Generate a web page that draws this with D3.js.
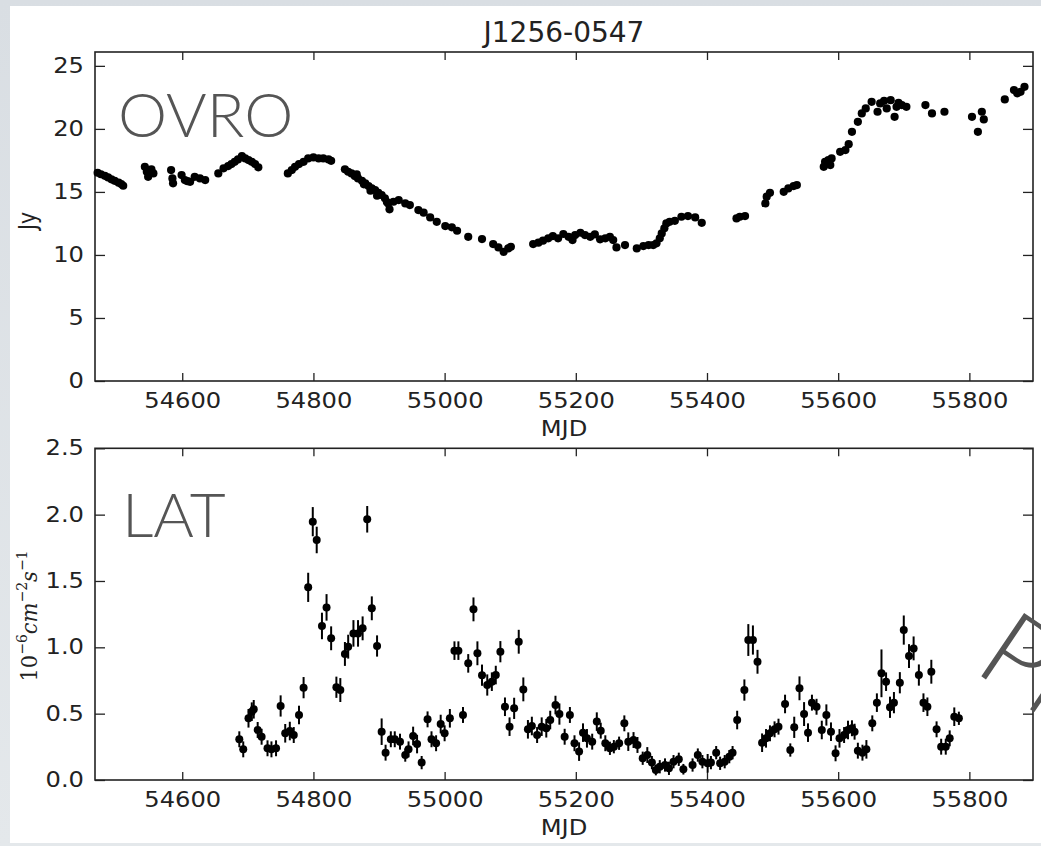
<!DOCTYPE html>
<html>
<head>
<meta charset="utf-8">
<script src="https://cdn.jsdelivr.net/npm/d3@7"></script>
<style>
  html, body { margin: 0; padding: 0; background: #fff; }
  svg { display: block; }
</style>
</head>
<body>
<svg id="chart" width="1041" height="846"></svg>
<script>
// ---- OVRO 15 GHz light curve (MJD, flux density in Jy) ----
const ovroMJD = [
  54471, 54476, 54482, 54487, 54492, 54497, 54503, 54507, 54510,
  54543, 54546, 54548, 54553, 54556,
  54583, 54585, 54586,
  54599, 54604, 54608, 54612, 54619, 54627, 54635,
  54655, 54663, 54670, 54675, 54680, 54685, 54691, 54696, 54701, 54706, 54711, 54716,
  54761, 54767, 54772, 54778, 54785, 54792, 54800, 54808, 54815, 54823, 54827,
  54848, 54853, 54858, 54863, 54866, 54868, 54874, 54877, 54879, 54884, 54887, 54889,
  54894, 54897, 54899, 54904, 54909, 54912, 54914, 54916, 54922, 54930, 54940, 54947,
  54960, 54968, 54978, 54988, 55001, 55011, 55019, 55036, 55057, 55074, 55082, 55090, 55097, 55101,
  55135, 55143, 55150, 55158, 55165, 55173, 55181, 55189, 55195, 55199, 55207, 55214, 55222,
  55229, 55237, 55245, 55252, 55257, 55262, 55275,
  55293, 55303, 55311, 55318, 55323, 55328, 55331, 55335, 55338, 55343, 55351, 55361, 55371, 55382, 55392,
  55445, 55450, 55458,
  55489, 55491, 55496, 55517, 55524, 55532, 55537,
  55578, 55580, 55585, 55588, 55590, 55603, 55611, 55616,
  55621, 55630, 55636, 55642, 55651, 55660, 55664, 55670, 55674, 55680, 55686, 55689, 55692, 55697, 55704,
  55733, 55743, 55762,
  55804, 55813, 55819, 55822,
  55854, 55868, 55873, 55878, 55884
];
const ovroJy = [
  16.52, 16.40, 16.28, 16.15, 16.00, 15.88, 15.73, 15.62, 15.49,
  16.99, 16.60, 16.20, 16.79, 16.47,
  16.73, 16.07, 15.68,
  16.34, 15.94, 15.85, 15.80, 16.20, 16.07, 15.94,
  16.47, 16.87, 17.05, 17.21, 17.39, 17.58, 17.84, 17.66, 17.53, 17.39, 17.21, 16.95,
  16.47, 16.73, 16.99, 17.21, 17.39, 17.66, 17.74, 17.66, 17.66, 17.58, 17.47,
  16.79, 16.60, 16.47, 16.26, 16.40, 16.07, 15.88, 15.60, 15.68, 15.46, 15.10, 15.28,
  15.15, 14.70, 14.93, 14.75, 14.49, 14.20, 14.09, 13.62, 14.22, 14.35, 14.09, 13.96,
  13.56, 13.35, 12.98, 12.63, 12.29, 12.19, 11.92, 11.44, 11.26, 10.86, 10.60, 10.25, 10.52, 10.65,
  10.86, 10.97, 11.13, 11.32, 11.50, 11.32, 11.66, 11.44, 11.18, 11.58, 11.76, 11.58, 11.44,
  11.63, 11.24, 11.32, 11.44, 11.18, 10.60, 10.78,
  10.52, 10.70, 10.78, 10.78, 10.92, 11.32, 11.71, 12.11, 12.50, 12.63, 12.71, 13.03, 13.08, 12.98, 12.55,
  12.90, 13.03, 13.08,
  14.09, 14.62, 14.93, 15.01, 15.28, 15.46, 15.54,
  16.99, 17.39, 17.53, 17.13, 17.66, 18.18, 18.32, 18.79,
  19.77, 20.56, 21.23, 21.62, 22.15, 21.36, 22.02, 22.23, 21.62, 22.28, 20.96, 21.75, 22.07, 21.89, 21.75,
  21.89, 21.23, 21.36,
  20.96, 19.77, 21.36, 20.75,
  22.34, 23.08, 22.82, 22.94, 23.34
];

// ---- Fermi-LAT weekly photon flux (MJD, 1e-6 ph cm^-2 s^-1, 1-sigma error) ----
const latMJD = [
  54687, 54693, 54701, 54706, 54709, 54715, 54721, 54730, 54736, 54743,
  54750, 54757, 54764, 54770, 54778, 54785, 54792, 54799, 54805, 54813,
  54820, 54827, 54835, 54841, 54848, 54853, 54861, 54868, 54875, 54882,
  54889, 54897, 54904, 54910, 54918, 54924, 54932, 54940, 54945, 54952,
  54958, 54965, 54974, 54980, 54987, 54994, 55000, 55008, 55015, 55021,
  55028, 55036, 55044, 55050, 55057, 55065, 55072, 55078, 55085, 55092,
  55099, 55106, 55113, 55120, 55127, 55133, 55141, 55148, 55155, 55161,
  55169, 55175, 55183, 55191, 55198, 55205, 55211, 55217, 55225, 55232,
  55238, 55245, 55252, 55258, 55266, 55274, 55280, 55288, 55294, 55302,
  55309, 55316, 55322, 55328, 55336, 55342, 55349, 55357, 55364, 55378,
  55386, 55393, 55401, 55406, 55414, 55420, 55427, 55434, 55439, 55446,
  55457, 55463, 55470, 55477, 55484, 55490, 55496, 55503, 55509, 55519,
  55527, 55533, 55541, 55548, 55554, 55560, 55567, 55575, 55582, 55589,
  55596, 55602, 55609, 55615, 55621, 55625, 55630, 55637, 55643, 55652,
  55659, 55666, 55673, 55679, 55685, 55694, 55700, 55708, 55715, 55723,
  55730, 55736, 55742, 55750, 55757, 55764, 55770, 55777, 55784
];
const latFlux = [
  0.307, 0.231, 0.465, 0.515, 0.533, 0.377, 0.326, 0.239, 0.231, 0.239,
  0.558, 0.352, 0.369, 0.339, 0.490, 0.696, 1.452, 1.947, 1.809, 1.161,
  1.301, 1.068, 0.699, 0.678, 0.950, 1.005, 1.105, 1.105, 1.143, 1.965,
  1.294, 1.010, 0.364, 0.206, 0.307, 0.307, 0.289, 0.188, 0.231, 0.332,
  0.271, 0.131, 0.457, 0.307, 0.277, 0.422, 0.352, 0.465, 0.975, 0.975,
  0.490, 0.879, 1.286, 0.955, 0.790, 0.716, 0.741, 0.791, 0.967, 0.552,
  0.402, 0.540, 1.042, 0.683, 0.382, 0.407, 0.339, 0.402, 0.390, 0.452,
  0.565, 0.497, 0.326, 0.490, 0.277, 0.214, 0.357, 0.314, 0.289, 0.440,
  0.372, 0.277, 0.239, 0.251, 0.277, 0.427, 0.289, 0.301, 0.264, 0.164,
  0.188, 0.131, 0.075, 0.100, 0.113, 0.088, 0.138, 0.156, 0.081, 0.113,
  0.188, 0.138, 0.126, 0.131, 0.206, 0.126, 0.138, 0.176, 0.206, 0.452,
  0.678, 1.055, 1.055, 0.891, 0.281, 0.314, 0.352, 0.382, 0.402, 0.573,
  0.226, 0.397, 0.691, 0.497, 0.357, 0.583, 0.552, 0.377, 0.490, 0.364,
  0.201, 0.314, 0.339, 0.377, 0.390, 0.364, 0.221, 0.206, 0.231, 0.427,
  0.583, 0.804, 0.741, 0.548, 0.583, 0.733, 1.130, 0.934, 0.992, 0.791,
  0.583, 0.552, 0.816, 0.382, 0.251, 0.251, 0.314, 0.477, 0.465
];
const latErr = [
  0.06, 0.06, 0.07, 0.07, 0.07, 0.06, 0.06, 0.06, 0.06, 0.06,
  0.08, 0.07, 0.07, 0.06, 0.07, 0.08, 0.11, 0.11, 0.10, 0.10,
  0.10, 0.09, 0.08, 0.09, 0.09, 0.09, 0.10, 0.10, 0.09, 0.10,
  0.09, 0.08, 0.10, 0.06, 0.06, 0.06, 0.06, 0.05, 0.06, 0.07,
  0.07, 0.05, 0.06, 0.06, 0.06, 0.07, 0.06, 0.07, 0.07, 0.07,
  0.06, 0.07, 0.09, 0.09, 0.08, 0.08, 0.07, 0.07, 0.08, 0.07,
  0.07, 0.08, 0.09, 0.09, 0.07, 0.07, 0.06, 0.07, 0.07, 0.07,
  0.07, 0.08, 0.06, 0.06, 0.06, 0.07, 0.07, 0.07, 0.06, 0.07,
  0.06, 0.06, 0.05, 0.05, 0.05, 0.06, 0.07, 0.06, 0.06, 0.05,
  0.06, 0.05, 0.04, 0.05, 0.05, 0.05, 0.05, 0.05, 0.04, 0.05,
  0.05, 0.05, 0.07, 0.05, 0.05, 0.05, 0.05, 0.05, 0.05, 0.07,
  0.08, 0.12, 0.11, 0.09, 0.07, 0.07, 0.06, 0.06, 0.06, 0.07,
  0.05, 0.08, 0.09, 0.09, 0.07, 0.06, 0.06, 0.07, 0.08, 0.07,
  0.06, 0.07, 0.06, 0.07, 0.06, 0.06, 0.06, 0.06, 0.07, 0.06,
  0.07, 0.18, 0.07, 0.08, 0.08, 0.08, 0.11, 0.09, 0.09, 0.08,
  0.07, 0.07, 0.09, 0.06, 0.06, 0.06, 0.06, 0.07, 0.05
];

// ---- axis ticks ----
const mjdTicks = [54600, 54800, 55000, 55200, 55400, 55600, 55800];
const jyTicks = [0, 5, 10, 15, 20, 25];
const fluxTicks = [0.0, 0.5, 1.0, 1.5, 2.0, 2.5];

const svg = d3.select("#chart");
const W = 1041, H = 846;

// slide-style backdrop with a white content panel
const defs = svg.append("defs");
const grad = defs.append("linearGradient").attr("id", "bg")
  .attr("x1", "0").attr("y1", "0").attr("x2", "0").attr("y2", "1");
grad.append("stop").attr("offset", "0").attr("stop-color", "#d9dee3");
grad.append("stop").attr("offset", "1").attr("stop-color", "#e4e8eb");
svg.append("rect").attr("width", W).attr("height", H).attr("fill", "url(#bg)");
svg.append("rect").attr("x", 10).attr("y", 6).attr("width", W - 10).attr("height", 837).attr("fill", "#ffffff");
// keeps the slanted stamp inside the panel
defs.append("clipPath").attr("id", "panelClip")
  .append("rect").attr("x", 10).attr("y", 6).attr("width", W - 10).attr("height", 837);

const left = 95, right = 1033;
const x = d3.scaleLinear().domain([54467, 55897]).range([left, right]);
const yTop = d3.scaleLinear().domain([0, 26.1]).range([381, 52]);
const yBot = d3.scaleLinear().domain([0, 2.5]).range([780, 448.3]);

const tickFont = "'DejaVu Sans', sans-serif";
const SX = 1.18; // horizontal text stretch of the figure

function frame(y, yTicks, fmt) {
  const g = svg.append("g");
  const [y0, y1] = y.range();
  // bottom axis with labels, inward ticks
  const gb = g.append("g").attr("transform", `translate(0,${y0})`)
    .call(d3.axisBottom(x).tickValues(mjdTicks).tickSizeInner(-8).tickSizeOuter(0).tickPadding(12).tickFormat(d3.format("d")));
  const gt = g.append("g").attr("transform", `translate(0,${y1})`)
    .call(d3.axisTop(x).tickValues(mjdTicks).tickSizeInner(-8).tickSizeOuter(0).tickFormat(""));
  const gl = g.append("g").attr("transform", `translate(${left},0)`)
    .call(d3.axisLeft(y).tickValues(yTicks).tickSizeInner(-10).tickSizeOuter(0).tickPadding(11).tickFormat(fmt));
  const gr = g.append("g").attr("transform", `translate(${right},0)`)
    .call(d3.axisRight(y).tickValues(yTicks).tickSizeInner(-10).tickSizeOuter(0).tickFormat(""));
  [gb, gt, gl, gr].forEach(a => {
    a.select(".domain").remove();
    a.selectAll(".tick line").attr("stroke", "#222").attr("stroke-width", 1.3);
    a.selectAll("text").attr("font-family", tickFont).attr("font-size", 20.5).attr("fill", "#222")
      .attr("transform", `scale(${SX},1)`);
  });
  gl.selectAll("text").attr("x", -11 / SX);
  g.append("rect").attr("x", left).attr("y", y1).attr("width", right - left).attr("height", y0 - y1)
    .attr("fill", "none").attr("stroke", "#222").attr("stroke-width", 1.6);
  // x label
  g.append("text").attr("transform", `translate(${(left + right) / 2},${y0 + 55}) scale(${SX},1)`)
    .attr("text-anchor", "middle").attr("font-family", tickFont).attr("font-size", 20.5).attr("fill", "#222")
    .text("MJD");
  return g;
}

frame(yTop, jyTicks, d3.format("d"));
frame(yBot, fluxTicks, d3.format(".1f"));

// title
svg.append("text").attr("x", 564).attr("y", 42).attr("text-anchor", "middle")
  .attr("font-family", tickFont).attr("font-size", 28).attr("fill", "#222").text("J1256-0547");

// y labels
svg.append("text").attr("transform", `translate(36,221) scale(${SX},1) rotate(-90)`)
  .attr("text-anchor", "middle").attr("font-family", tickFont).attr("font-size", 20.5).attr("fill", "#222").text("Jy");

const yl = svg.append("text").attr("transform", `translate(37,616) scale(1.05,1) rotate(-90)`)
  .attr("text-anchor", "middle").attr("font-family", "'DejaVu Serif', serif").attr("font-size", 21).attr("fill", "#222");
yl.append("tspan").text("10");
yl.append("tspan").attr("dy", -10).attr("font-size", 14).text("\u22126");
yl.append("tspan").attr("dy", 10).attr("font-style", "italic").text("cm");
yl.append("tspan").attr("dy", -10).attr("font-size", 14).text("\u22122");
yl.append("tspan").attr("dy", 10).attr("font-style", "italic").text("s");
yl.append("tspan").attr("dy", -10).attr("font-size", 14).text("\u22121");

// OVRO points
const ovro = ovroMJD.map((m, i) => ({ m, v: ovroJy[i] }));
svg.append("g").selectAll("circle").data(ovro).join("circle")
  .attr("cx", d => x(d.m)).attr("cy", d => yTop(d.v)).attr("r", 4.1).attr("fill", "#000");

// LAT points with error bars
const lat = latMJD.map((m, i) => ({ m, v: latFlux[i], e: latErr[i] }));
const gl = svg.append("g");
gl.selectAll("line").data(lat).join("line")
  .attr("x1", d => x(d.m)).attr("x2", d => x(d.m))
  .attr("y1", d => yBot(d.v - d.e)).attr("y2", d => yBot(d.v + d.e))
  .attr("stroke", "#000").attr("stroke-width", 2);
gl.selectAll("circle").data(lat).join("circle")
  .attr("cx", d => x(d.m)).attr("cy", d => yBot(d.v)).attr("r", 4).attr("fill", "#000");

// panel captions
const capFont = "Lato, 'Open Sans', sans-serif";
svg.append("text").attr("x", 118).attr("y", 137).attr("font-family", capFont).attr("font-weight", 300)
  .attr("font-size", 62).attr("fill", "#555").text("OVRO");
svg.append("text").attr("x", 122).attr("y", 537).attr("font-family", capFont).attr("font-weight", 300)
  .attr("font-size", 62).attr("fill", "#555").text("LAT");
svg.append("g").attr("clip-path", "url(#panelClip)")
  .append("text").attr("transform", "translate(972,670) rotate(34)").attr("font-family", capFont).attr("font-weight", 300)
  .attr("font-size", 108).attr("fill", "#555").text("Pr");
</script>
</body>
</html>
